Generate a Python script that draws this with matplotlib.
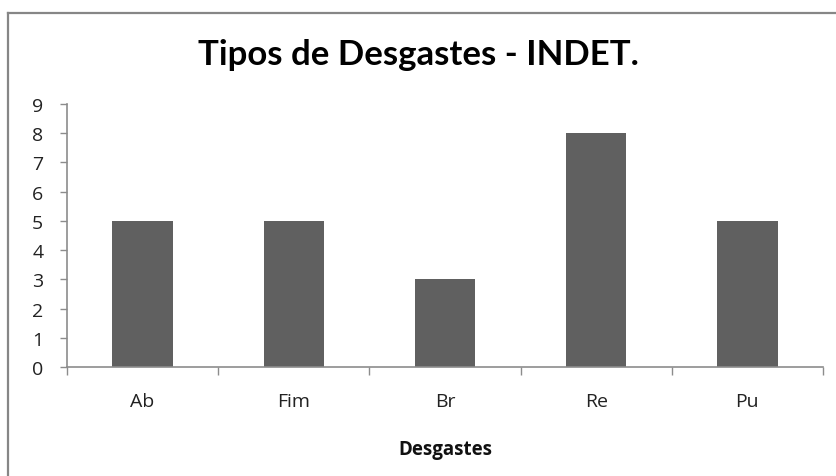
import matplotlib
matplotlib.use('Agg')
import matplotlib.pyplot as plt
from matplotlib.lines import Line2D

categories = ['Ab', 'Fim', 'Br', 'Re', 'Pu']
values = [5, 5, 3, 8, 5]
y_ticks = list(range(0, 10))

plt.rcParams['font.family'] = ['Open Sans', 'DejaVu Sans']

fig = plt.figure(figsize=(8.36, 4.77), dpi=100)
ax = fig.add_axes([0.0801, 0.2285, 0.9043, 0.5514])

axis_grey = '#8c8c8c'
pos = list(range(len(categories)))
ax.bar(pos, values, width=0.4, color='#606060', zorder=2)

ax.set_xlim(-0.5, len(categories) - 0.5)
ax.set_ylim(0, 9)
ax.set_yticks(y_ticks)
ax.set_yticklabels([str(t) for t in y_ticks])
ax.set_xticks(pos)
ax.set_xticklabels(categories)
ax.set_xticks([p - 0.5 for p in pos] + [len(categories) - 0.5], minor=True)

ax.tick_params(axis='y', direction='out', length=5, width=1, color=axis_grey,
               labelsize=14, pad=12, labelcolor='#222222')
ax.tick_params(axis='x', which='major', length=0, labelsize=14, pad=18,
               labelcolor='#222222')
ax.tick_params(axis='x', which='minor', direction='out', length=6, width=1,
               color=axis_grey)

for side in ['top', 'right']:
    ax.spines[side].set_visible(False)
for side in ['left', 'bottom']:
    ax.spines[side].set_color(axis_grey)
    ax.spines[side].set_linewidth(1.2)

ax.set_xlabel('Desgastes', fontsize=13.5, fontweight='bold', labelpad=21,
              color='#111111')
fig.text(0.5, 0.885, 'Tipos de Desgastes - INDET.', ha='center', va='center',
         fontsize=25, fontweight='bold', color='#000000',
         family=['Lato', 'DejaVu Sans'])

# chart frame (cropped: only top and left edges visible)
fig.add_artist(Line2D([0.0096, 1.0], [0.9706, 0.9706], color='#868686',
                      linewidth=1.6, transform=fig.transFigure))
fig.add_artist(Line2D([0.0096, 0.0096], [0.0, 0.9706], color='#868686',
                      linewidth=1.6, transform=fig.transFigure))

fig.savefig('out.png', dpi=100)
